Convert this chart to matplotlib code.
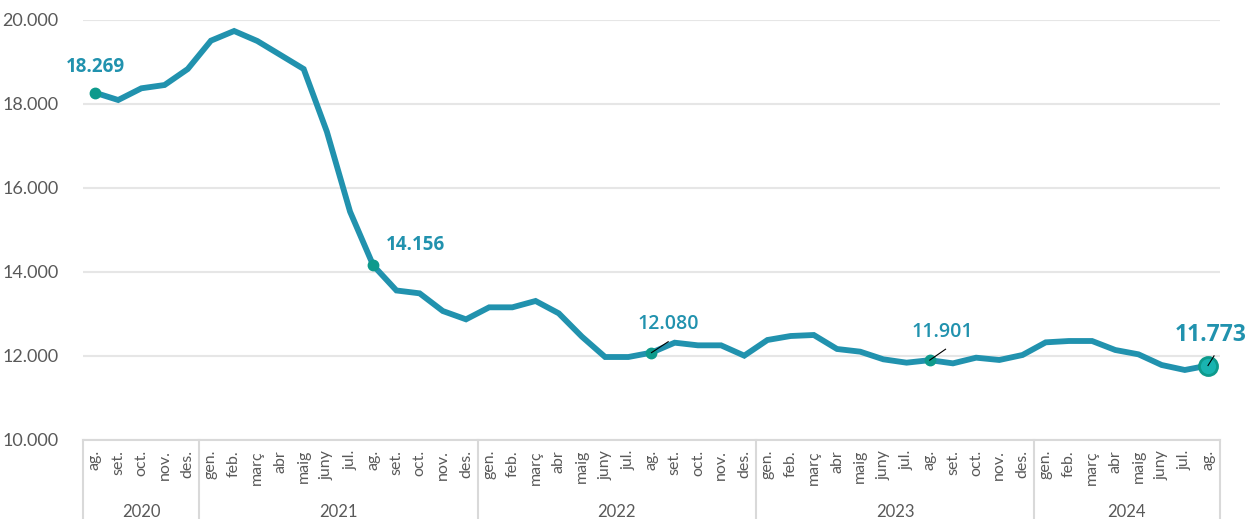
import matplotlib
matplotlib.use("Agg")
import matplotlib.pyplot as plt
from matplotlib.transforms import blended_transform_factory

plt.rcParams['font.family'] = ['Lato', 'DejaVu Sans']

months = ["ag.", "set.", "oct.", "nov.", "des.",
          "gen.", "feb.", "març", "abr", "maig", "juny", "jul.", "ag.", "set.", "oct.", "nov.", "des.",
          "gen.", "feb.", "març", "abr", "maig", "juny", "jul.", "ag.", "set.", "oct.", "nov.", "des.",
          "gen.", "feb.", "març", "abr", "maig", "juny", "jul.", "ag.", "set.", "oct.", "nov.", "des.",
          "gen.", "feb.", "març", "abr", "maig", "juny", "jul.", "ag."]
years = ["2020"] * 5 + ["2021"] * 12 + ["2022"] * 12 + ["2023"] * 12 + ["2024"] * 8
values = [18269, 18095, 18374, 18452, 18833,
          19508, 19738, 19500, 19167, 18833, 17341, 15437, 14156, 13560, 13492, 13071, 12873,
          13159, 13159, 13310, 13016, 12460, 11976, 11976, 12080, 12317, 12254, 12254, 12008,
          12381, 12476, 12500, 12167, 12103, 11921, 11841, 11901, 11825, 11960, 11905, 12024,
          12325, 12357, 12357, 12143, 12040, 11786, 11667, 11773]
highlight_idx = [0, 12, 24, 36, 48]

LINE = '#2192ae'
MARK = '#0e9a8c'
GRAY = '#595959'
GRID = '#e6e6e6'
LABEL_FONT = ['Open Sans', 'DejaVu Sans']

fig = plt.figure(figsize=(12.48, 5.19), dpi=100)
ax = fig.add_axes([83.4 / 1248, 1 - 440 / 519, (1219.6 - 83.4) / 1248, 420 / 519])

x = list(range(len(values)))
ax.plot(x, values, color=LINE, lw=4.2, solid_joinstyle='miter', zorder=3)

for i in highlight_idx[:-1]:
    ax.plot(x[i], values[i], 'o', ms=7.5, color=MARK, mec=MARK, zorder=4)
ax.plot(x[48], values[48], 'o', ms=13, color='#19b4b0', mec='#0e9a8c', mew=2, zorder=4)

def fmt(v):
    return f"{v:,}".replace(",", ".")

# data labels
lab = [
    (0, 0.0, 610, 'bold', 13.5),
    (12, 1.8, 490, 'bold', 13.5),
    (24, 0.7, 680, 'semibold', 14),
    (36, 0.55, 670, 'semibold', 14),
    (48, 0.1, 730, 'bold', 16.5),
]
for i, dx, dy, w, fs in lab:
    ax.text(x[i] + dx, values[i] + dy, fmt(values[i]), color=LINE, fontsize=fs,
            fontweight=w, family=LABEL_FONT, ha='center', va='center',
            clip_on=False, zorder=5)
# leader lines
for i, dx, dy in [(24, 0.72, 260), (36, 0.68, 260), (48, 0.26, 230)]:
    ax.plot([x[i], x[i] + dx], [values[i], values[i] + dy], color='black', lw=0.8, zorder=5)

ax.set_xlim(-0.5, len(values) - 0.5)
ax.set_ylim(10000, 20000)
ax.set_yticks([10000, 12000, 14000, 16000, 18000, 20000])
ax.set_yticklabels([fmt(v) for v in [10000, 12000, 14000, 16000, 18000, 20000]],
                   fontsize=13, color=GRAY)
ax.tick_params(axis='y', length=0, pad=18)
ax.set_xticks([])
ax.grid(axis='y', color=GRID, lw=1.5, zorder=0)
for s in ['top', 'right', 'left']:
    ax.spines[s].set_visible(False)
ax.spines['bottom'].set_color('#d9d9d9')
ax.spines['bottom'].set_linewidth(1.5)

tr = blended_transform_factory(ax.transData, ax.transAxes)
for i, m in enumerate(months):
    ax.text(i, -0.024, m, rotation=90, ha='center', va='top', fontsize=11.5,
            color=GRAY, transform=tr, clip_on=False)

# year groups
groups = []
for i, y in enumerate(years):
    if not groups or groups[-1][0] != y:
        groups.append([y, i, i])
    else:
        groups[-1][2] = i
bottom = -(519 - 440) / 420 - 0.01
bounds = [g[1] - 0.5 for g in groups] + [groups[-1][2] + 0.5]
for b in bounds:
    ax.plot([b, b], [0, bottom], color='#d9d9d9', lw=1.5, transform=tr, clip_on=False)
for y, a, b in groups:
    ax.text((a + b) / 2, -0.172, y, ha='center', va='center', fontsize=12,
            color=GRAY, transform=tr, clip_on=False)

fig.savefig('out.png', dpi=100, facecolor='white')
